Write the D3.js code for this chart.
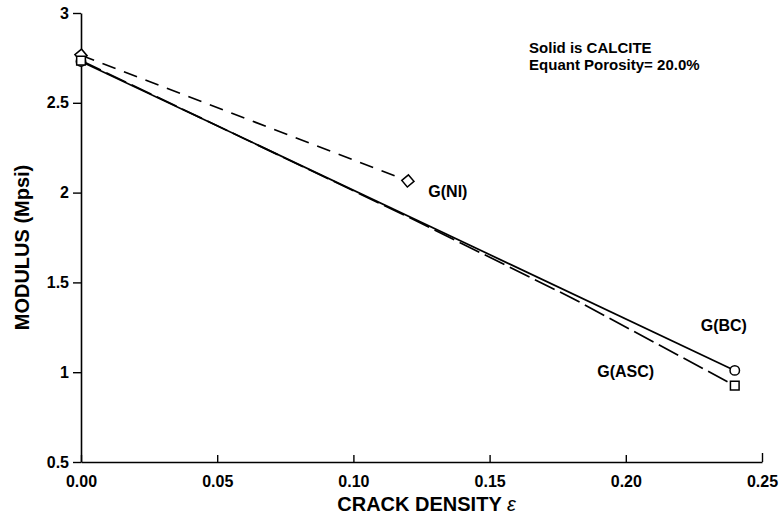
<!DOCTYPE html>
<html>
<head>
<meta charset="utf-8">
<script src="https://cdn.jsdelivr.net/npm/d3@7"></script>
<style>
  body { margin: 0; background: #fff; }
  text { font-family: "Liberation Sans", Arial, sans-serif; font-weight: bold; fill: #000; }
</style>
</head>
<body>
<svg id="chart" width="780" height="518"></svg>
<script>
// crack density values and modulus (Mpsi)
var niX = [0.00, 0.12],
    niY = [2.765, 2.065];
var bcX = [0.00, 0.24],
    bcY = [2.73, 1.01];
var ascX = [0.00, 0.06, 0.12, 0.18, 0.24],
    ascY = [2.735, 2.30, 1.865, 1.415, 0.925];

var xTicks = [0, 0.05, 0.10, 0.15, 0.20, 0.25],
    xTickLabels = ["0.00", "0.05", "0.10", "0.15", "0.20", "0.25"];
var yTicks = [0.5, 1, 1.5, 2, 2.5, 3],
    yTickLabels = ["0.5", "1", "1.5", "2", "2.5", "3"];

var svg = d3.select("#chart"),
    margin = {top: 13, right: 18, bottom: 56, left: 81},
    width = svg.attr("width") - margin.left - margin.right,
    height = svg.attr("height") - margin.top - margin.bottom;

var x = d3.scaleLinear().domain([0, 0.25]).range([0, width]),
    y = d3.scaleLinear().domain([0.5, 3]).range([height, 0]);

var g = svg.append("g")
    .attr("transform", "translate(" + margin.left + "," + margin.top + ")");

// X axis, ticks pointing up
var xAxis = g.append("g")
    .attr("transform", "translate(0," + height + ")")
    .call(d3.axisBottom(x).tickValues(xTicks)
        .tickFormat(function (d, i) { return xTickLabels[i]; })
        .tickSizeInner(-7).tickSizeOuter(0).tickPadding(19));
xAxis.select(".domain").attr("stroke-width", 1.6);
xAxis.selectAll(".tick line").attr("stroke-width", 1.4);
xAxis.selectAll("text").style("font-size", "16px").attr("dy", "0.35em");
xAxis.select(".tick:last-of-type line").attr("y2", -9);

// Y axis, ticks pointing left
var yAxis = g.append("g")
    .call(d3.axisLeft(y).tickValues(yTicks)
        .tickFormat(function (d, i) { return yTickLabels[i]; })
        .tickSizeInner(8).tickSizeOuter(0).tickPadding(4));
yAxis.select(".domain").attr("stroke-width", 1.6);
yAxis.selectAll(".tick line").attr("stroke-width", 1.4);
yAxis.selectAll("text").style("font-size", "16px");

// axis titles
var xt = g.append("text")
    .attr("transform", "translate(" + (width / 2 + 5) + "," + (height + 49) + ")")
    .style("text-anchor", "middle")
    .style("font-size", "20px");
xt.append("tspan").text("CRACK DENSITY ");
xt.append("tspan").style("font-style", "italic").style("font-weight", "normal").text("\u03b5");

g.append("text")
    .attr("transform", "translate(" + (-52) + "," + (height / 2 + 10) + ") rotate(-90)")
    .style("text-anchor", "middle")
    .style("font-size", "20px")
    .text("MODULUS (Mpsi)");

// lines
var line = d3.line()
    .x(function (d) { return x(d[0]); })
    .y(function (d) { return y(d[1]); });

var series = [
    {name: "G(NI)", xs: niX, ys: niY, dash: "14,9", marker: "diamond"},
    {name: "G(BC)", xs: bcX, ys: bcY, dash: null, marker: "circle"},
    {name: "G(ASC)", xs: ascX, ys: ascY, dash: "22,6", marker: "square"}
];

series.forEach(function (s) {
    var pts = s.xs.map(function (v, i) { return [v, s.ys[i]]; });
    g.append("path")
        .datum(pts)
        .attr("fill", "none")
        .attr("stroke", "#000")
        .attr("stroke-width", 1.7)
        .attr("stroke-dasharray", s.dash)
        .attr("d", line);

    // markers only at the two ends of each curve
    var ends = [pts[0], pts[pts.length - 1]];
    var sym = s.marker === "circle" ? d3.symbolCircle : d3.symbolSquare;
    var size = s.marker === "circle" ? 70 : 75;
    g.selectAll(null)
        .data(ends)
        .join("path")
        .attr("d", d3.symbol().type(sym).size(size))
        .attr("transform", function (d) {
            return "translate(" + x(d[0]) + "," + y(d[1]) + ")" +
                (s.marker === "diamond" ? " rotate(50)" : "");
        })
        .attr("fill", "#fff")
        .attr("stroke", "#000")
        .attr("stroke-width", 1.5);
});

// series labels
g.append("text").attr("x", x(0.1275)).attr("y", y(1.975)).style("font-size", "16px").text("G(NI)");
g.append("text").attr("x", x(0.2275)).attr("y", y(1.23)).style("font-size", "16px").text("G(BC)");
g.append("text").attr("x", x(0.1895)).attr("y", y(0.975)).style("font-size", "16px").text("G(ASC)");

// annotation
g.append("text").attr("x", x(0.1645)).attr("y", y(2.78)).style("font-size", "15px").text("Solid is CALCITE");
g.append("text").attr("x", x(0.1645)).attr("y", y(2.68)).style("font-size", "15px").text("Equant Porosity= 20.0%");
</script>
</body>
</html>
